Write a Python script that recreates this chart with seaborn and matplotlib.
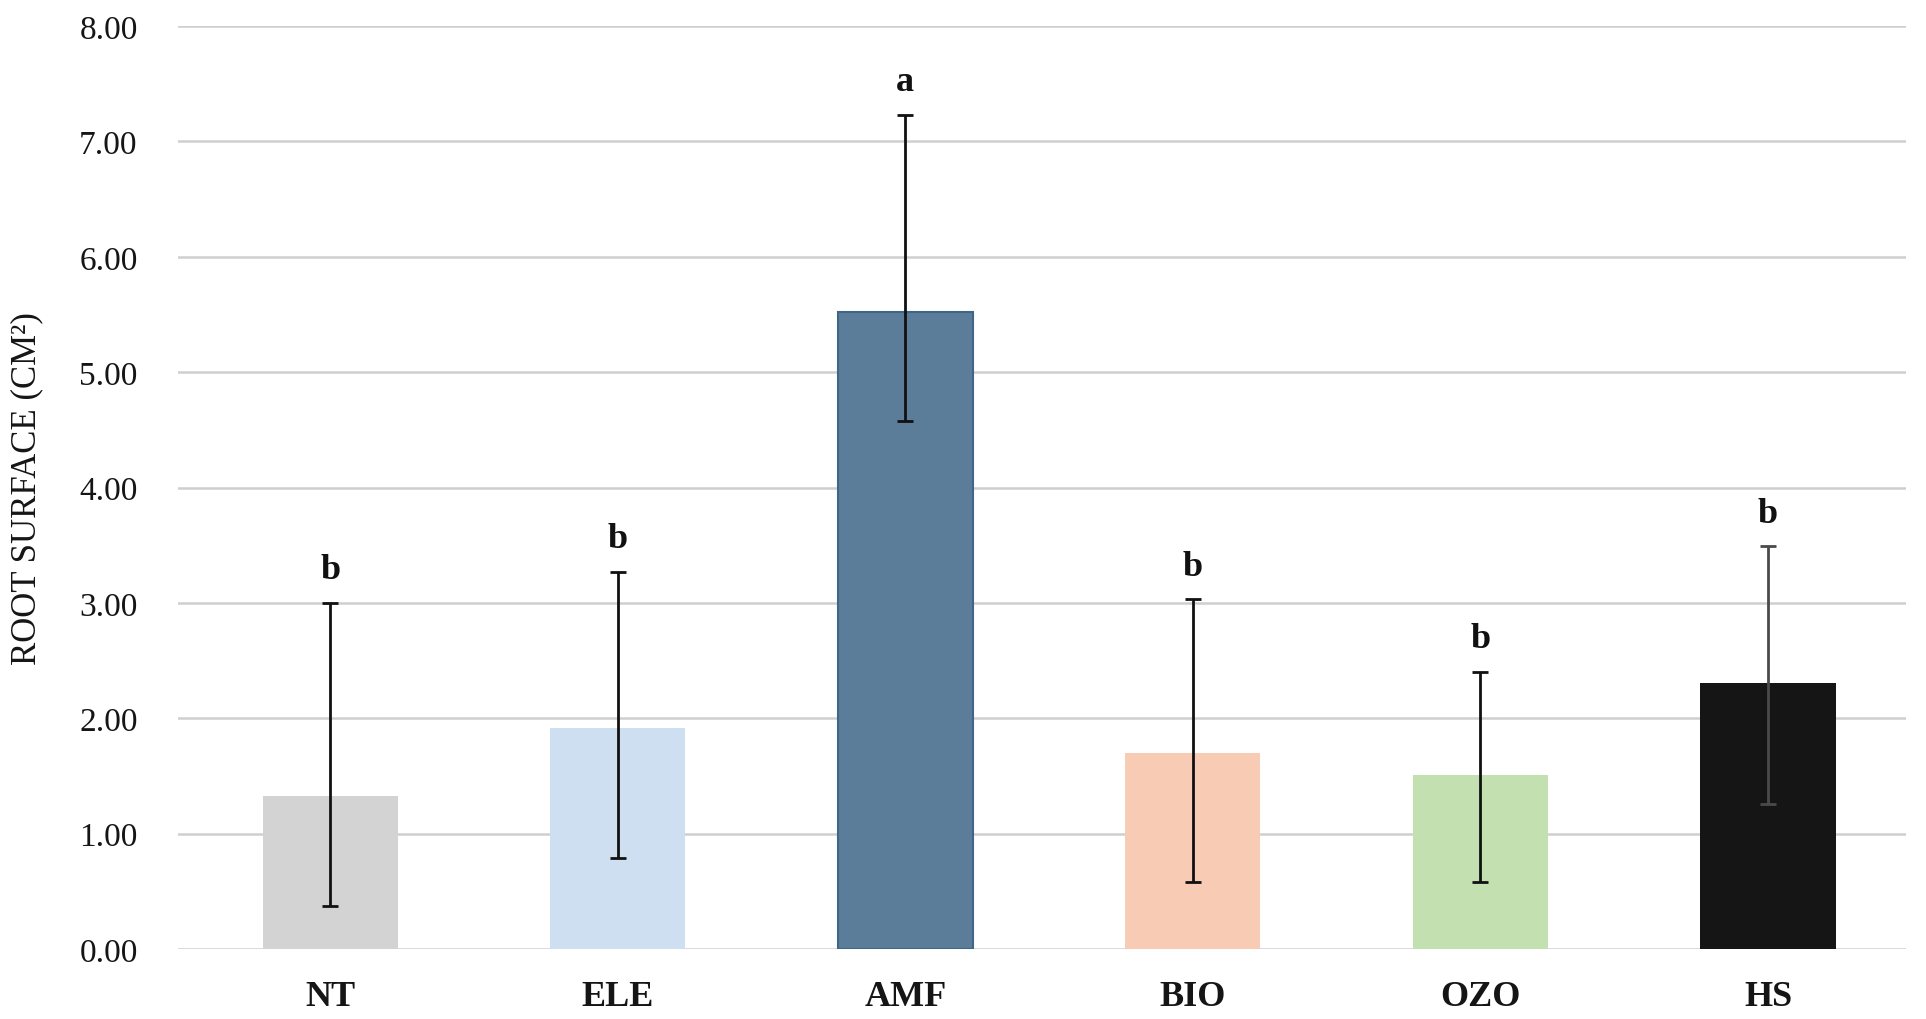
import matplotlib
matplotlib.use("Agg")
import matplotlib.pyplot as plt
import seaborn as sns
import pandas as pd
import numpy as np

categories = ["NT", "ELE", "AMF", "BIO", "OZO", "HS"]
means = [1.33, 1.92, 5.52, 1.70, 1.51, 2.31]
err_low = [0.37, 0.79, 4.58, 0.58, 0.58, 1.26]
err_high = [3.00, 3.27, 7.23, 3.03, 2.40, 3.49]
letters = ["b", "b", "a", "b", "b", "b"]
colors = ["#d3d3d3", "#cddff0", "#5b7d99", "#f8cbb4", "#c2e0b0", "#151515"]
yticks = [0, 1, 2, 3, 4, 5, 6, 7, 8]

df = pd.DataFrame({"cat": categories, "val": means})

sns.set_theme(style="white")
plt.rcParams["font.family"] = ["Liberation Serif", "DejaVu Serif"]

fig = plt.figure(figsize=(19.26, 10.20), dpi=100)
ax = fig.add_axes([0.0924, 0.0686, 0.8972, 0.9049])

sns.barplot(data=df, x="cat", y="val", hue="cat", palette=colors,
            errorbar=None, width=0.47, legend=False, ax=ax, zorder=3,
            linewidth=0, saturation=1)
for p, c in zip(ax.patches, categories):
    if c == "AMF":
        p.set_edgecolor("#3f6688")
        p.set_linewidth(1.5)

for p, m, lo, hi, lt, c in zip(ax.patches, means, err_low, err_high, letters, categories):
    xc = p.get_x() + p.get_width() / 2
    ecol = "#4a4a4a" if c == "HS" else "#111111"
    ax.errorbar([xc], [m], yerr=[[m - lo], [hi - m]], fmt="none",
                ecolor=ecol, elinewidth=2, capsize=6, capthick=2, zorder=4)
    ax.annotate(lt, xy=(xc, hi), xytext=(0, 12), textcoords="offset points",
                ha="center", va="bottom", fontsize=26, fontweight="bold",
                color="#111111")

ax.set_ylim(0, 8)
ax.set_xlim(-0.53, 5.48)
ax.set_yticks(yticks)
ax.set_yticklabels([f"{v:.2f}" for v in yticks], fontsize=24, color="#151515")
ax.set_xticks(range(len(categories)))
ax.set_xticklabels(categories, fontsize=26, fontweight="bold", color="#151515")
ax.tick_params(axis="both", length=0)
ax.tick_params(axis="y", pad=29)
ax.tick_params(axis="x", pad=22)
ax.yaxis.grid(True, color="#cfcfcf", linewidth=1.8, zorder=0)
ax.set_axisbelow(True)
for s in ax.spines.values():
    s.set_visible(False)
ax.set_xlabel("")
ax.set_ylabel("ROOT SURFACE (CM²)", fontsize=25, color="#151515", labelpad=26)

fig.savefig("out.png", dpi=100)
